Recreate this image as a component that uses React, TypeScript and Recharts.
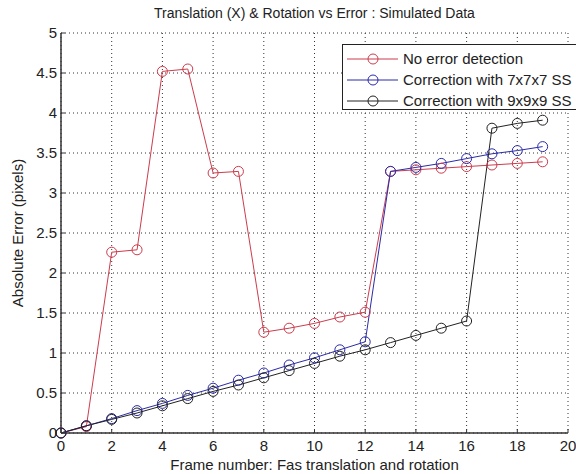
import React from 'react';
import { LineChart, Line, XAxis, YAxis, CartesianGrid } from 'recharts';

const frames = [0, 1, 2, 3, 4, 5, 6, 7, 8, 9, 10, 11, 12, 13, 14, 15, 16, 17, 18, 19];
const noErrorDetection = [0, 0.08, 2.26, 2.29, 4.52, 4.55, 3.25, 3.27, 1.26, 1.31, 1.37, 1.45, 1.51, 3.27, 3.29, 3.31, 3.33, 3.35, 3.37, 3.39];
const correction7 = [0, 0.09, 0.18, 0.28, 0.37, 0.47, 0.56, 0.66, 0.75, 0.85, 0.94, 1.04, 1.14, 3.27, 3.32, 3.37, 3.43, 3.49, 3.53, 3.58];
const correction9 = [0, 0.09, 0.17, 0.25, 0.34, 0.43, 0.52, 0.6, 0.69, 0.78, 0.87, 0.96, 1.04, 1.13, 1.22, 1.31, 1.4, 3.81, 3.87, 3.91];

const xTicks = [0, 2, 4, 6, 8, 10, 12, 14, 16, 18, 20];
const yTicks = [0, 0.5, 1, 1.5, 2, 2.5, 3, 3.5, 4, 4.5, 5];

const title = 'Translation (X) & Rotation vs Error : Simulated Data';
const xLabel = 'Frame number: Fas translation and rotation';
const yLabel = 'Absolute Error (pixels)';

const seriesNames = ['No error detection', 'Correction with 7x7x7 SS', 'Correction with 9x9x9 SS'];
const seriesColors = ['#cc3c4c', '#2a2aa8', '#222222'];

const data = frames.map((f, i) => ({
  frame: f,
  s0: noErrorDetection[i],
  s1: correction7[i],
  s2: correction9[i],
}));

const FONT = '"Liberation Sans", Arial, sans-serif';

const LegendBox = () => (
  <div
    style={{
      position: 'absolute',
      left: 342,
      top: 44,
      width: 236,
      height: 66,
      border: '1px solid #222',
      background: '#fff',
      boxSizing: 'border-box',
      fontFamily: FONT,
      fontSize: 15,
      color: '#222',
      paddingTop: 3,
    }}
  >
    {seriesNames.map((name, i) => (
      <div key={name} style={{ display: 'flex', alignItems: 'center', height: 21 }}>
        <svg width={58} height={14} style={{ flex: 'none' }}>
          <line x1={4} y1={7} x2={55} y2={7} stroke={seriesColors[i]} strokeWidth={1} />
          <circle cx={30} cy={7} r={5} fill="none" stroke={seriesColors[i]} strokeWidth={1} />
        </svg>
        <span style={{ marginLeft: 2, whiteSpace: 'nowrap' }}>{name}</span>
      </div>
    ))}
  </div>
);

export default function App() {
  return (
    <div style={{ position: 'absolute', left: 0, top: 0, width: 576, height: 474, background: '#fff', overflow: 'hidden' }}>
      <div
        style={{
          position: 'absolute',
          left: 61,
          width: 507,
          top: 5,
          textAlign: 'center',
          fontFamily: FONT,
          fontSize: 14,
          color: '#222',
        }}
      >
        {title}
      </div>
      <LineChart
        width={576}
        height={474}
        data={data}
        margin={{ top: 33, right: 8, bottom: 0, left: 0 }}
        style={{ fontFamily: FONT }}
      >
        <CartesianGrid stroke="#333" strokeDasharray="1 3" />
        <XAxis
          dataKey="frame"
          type="number"
          domain={[0, 20]}
          ticks={xTicks}
          interval={0}
          height={41}
          tickSize={-4}
          tickMargin={11}
          tickLine={{ stroke: '#333' }}
          axisLine={{ stroke: '#333', strokeWidth: 1.5 }}
          tick={{ fill: '#222', fontSize: 15 }}
          label={{ value: xLabel, position: 'insideBottom', offset: 4, fill: '#222', fontSize: 15 }}
        />
        <YAxis
          type="number"
          domain={[0, 5]}
          ticks={yTicks}
          interval={0}
          width={61}
          tickSize={-4}
          tickMargin={8}
          tickLine={{ stroke: '#333' }}
          axisLine={{ stroke: '#333', strokeWidth: 1.5 }}
          tick={{ fill: '#222', fontSize: 15 }}
          label={{
            value: yLabel,
            angle: -90,
            position: 'insideLeft',
            offset: 18,
            fill: '#222',
            fontSize: 15,
            style: { textAnchor: 'middle' },
          }}
        />
        {['s0', 's1', 's2'].map((k, i) => (
          <Line
            key={k}
            dataKey={k}
            name={seriesNames[i]}
            type="linear"
            stroke={seriesColors[i]}
            strokeWidth={1}
            dot={{ r: 5, fill: 'none', stroke: seriesColors[i], strokeWidth: 1 }}
            isAnimationActive={false}
          />
        ))}
      </LineChart>
      <LegendBox />
    </div>
  );
}
